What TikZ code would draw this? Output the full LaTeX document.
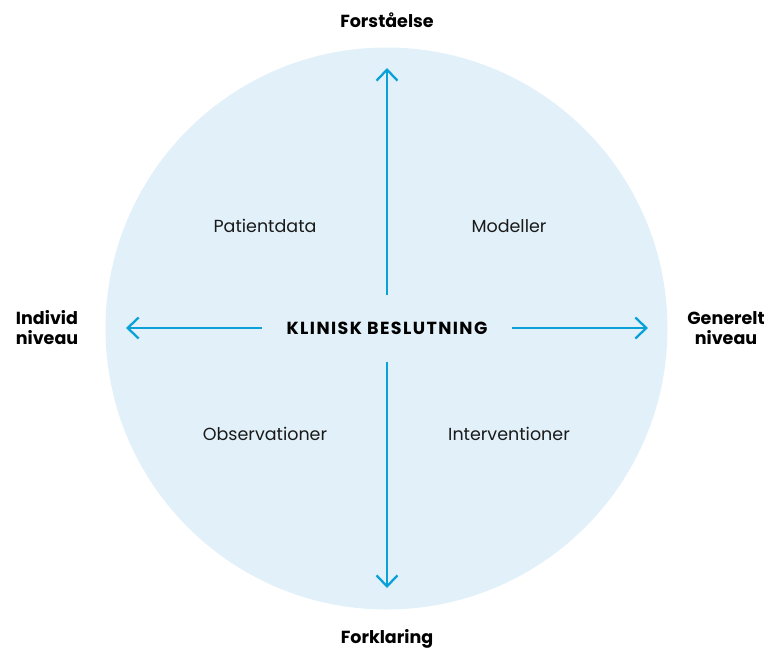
\documentclass[tikz,border=0pt]{standalone}
\usepackage{fontspec}
\setmainfont{Poppins}
\usetikzlibrary{arrows.meta}
\definecolor{circfill}{HTML}{E2F1F9}
\definecolor{arrowblue}{HTML}{0AA0D8}
\definecolor{txt}{HTML}{1A1A1A}
\tikzset{
  axis/.style={draw=arrowblue, line width=2.3pt, -{Straight Barb[length=11pt,width=21pt,line width=2.3pt]}},
  quad/.style={font=\fontsize{17.5}{20}\selectfont, text=txt},
  pole/.style={font=\fontsize{17.5}{20}\selectfont\bfseries, text=black, align=center},
}
\begin{document}
\begin{tikzpicture}[x=1pt,y=-1pt]
\useasboundingbox (0,0) rectangle (779,651);
\fill[circfill] (386.5,328.5) circle (281);
\node[pole, font=\fontsize{17.5}{20}\selectfont\bfseries\addfontfeature{LetterSpace=8}] (center) at (387,328) {KLINISK BESLUTNING};
\node[pole] (top) at (387,20) {Forståelse};
\node[pole] (bottom) at (387,639) {Forklaring};
\node[pole] (left) at (47,328) {Individ\\niveau};
\node[pole] (right) at (726,328) {Generelt\\niveau};
\coordinate (cu) at (387,295);
\coordinate (tu) at (387,68);
\coordinate (cd) at (387,362);
\coordinate (td) at (387,588);
\coordinate (cl) at (262,328);
\coordinate (tl) at (126,328);
\coordinate (cr) at (512,328);
\coordinate (tr) at (648,328);
\draw[axis] (cu) -- (tu);
\draw[axis] (cd) -- (td);
\draw[axis] (cl) -- (tl);
\draw[axis] (cr) -- (tr);
\node[quad] (pd) at (265,226) {Patientdata};
\node[quad] (mo) at (509,226) {Modeller};
\node[quad] (ob) at (265,434) {Observationer};
\node[quad] (iv) at (509,434) {Interventioner};
\end{tikzpicture}
\end{document}
